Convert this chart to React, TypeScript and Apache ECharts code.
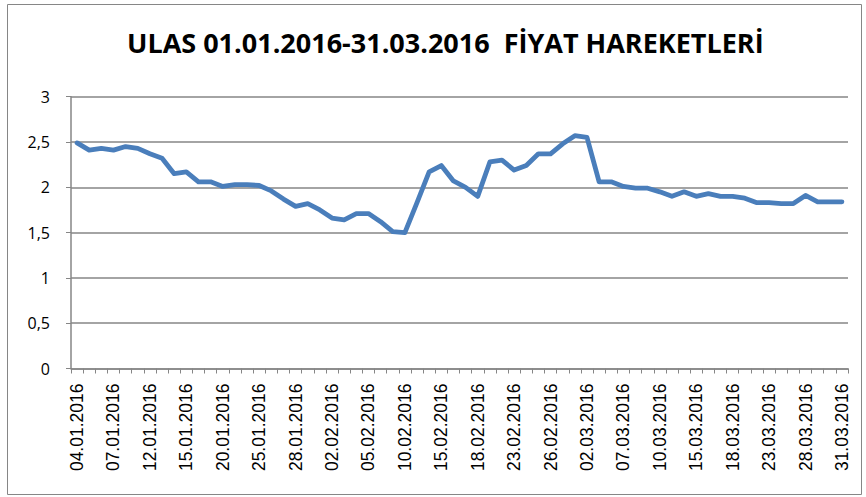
import React, { useEffect, useRef } from "react";
import * as echarts from "echarts";

const dates: string[] = [
  "04.01.2016", "05.01.2016", "06.01.2016", "07.01.2016", "08.01.2016", "11.01.2016", "12.01.2016", "13.01.2016",
  "14.01.2016", "15.01.2016", "18.01.2016", "19.01.2016", "20.01.2016", "21.01.2016", "22.01.2016", "25.01.2016",
  "26.01.2016", "27.01.2016", "28.01.2016", "29.01.2016",
  "01.02.2016", "02.02.2016", "03.02.2016", "04.02.2016", "05.02.2016", "08.02.2016", "09.02.2016", "10.02.2016",
  "11.02.2016", "12.02.2016", "15.02.2016", "16.02.2016", "17.02.2016", "18.02.2016", "19.02.2016", "22.02.2016",
  "23.02.2016", "24.02.2016", "25.02.2016", "26.02.2016", "29.02.2016",
  "01.03.2016", "02.03.2016", "03.03.2016", "04.03.2016", "07.03.2016", "08.03.2016", "09.03.2016", "10.03.2016",
  "11.03.2016", "14.03.2016", "15.03.2016", "16.03.2016", "17.03.2016", "18.03.2016", "21.03.2016", "22.03.2016",
  "23.03.2016", "24.03.2016", "25.03.2016", "28.03.2016", "29.03.2016", "30.03.2016", "31.03.2016",
];

const prices: number[] = [
  2.49, 2.41, 2.43, 2.41, 2.45, 2.43, 2.37, 2.32, 2.15, 2.17, 2.06, 2.06, 2.01, 2.03, 2.03, 2.02,
  1.96, 1.87, 1.79, 1.82, 1.75, 1.66, 1.64, 1.71, 1.71, 1.62, 1.51, 1.50, 1.83, 2.17, 2.24, 2.07,
  2.00, 1.90, 2.28, 2.30, 2.19, 2.24, 2.37, 2.37, 2.48, 2.57, 2.55, 2.06, 2.06, 2.01, 1.99, 1.99,
  1.95, 1.90, 1.95, 1.90, 1.93, 1.90, 1.90, 1.88, 1.83, 1.83, 1.82, 1.82, 1.91, 1.84, 1.84, 1.84,
];

const titleText = "ULAS 01.01.2016-31.03.2016  FİYAT HAREKETLERİ";

export default function App() {
  const ref = useRef<HTMLDivElement>(null);
  useEffect(() => {
    document.body.style.margin = "0";
    if (!ref.current) return;
    const chart = echarts.init(ref.current, null, { renderer: "svg" });
    const gray = "#868686";
    chart.setOption({
      animation: false,
      backgroundColor: "#ffffff",
      title: {
        text: titleText,
        left: 122,
        top: 24,
        textStyle: {
          fontFamily: "'Open Sans', sans-serif",
          fontWeight: "bold",
          fontSize: 27,
          color: "#000000",
        },
      },
      graphic: [
        {
          type: "rect",
          shape: { x: 7.5, y: 4.5, width: 854, height: 490 },
          style: { fill: "none", stroke: gray, lineWidth: 1 },
          silent: true,
        },
      ],
      grid: { left: 71, right: 18, top: 96.7, bottom: 128.5, containLabel: false },
      xAxis: {
        type: "category",
        data: dates,
        boundaryGap: true,
        axisLine: { show: true, lineStyle: { color: gray, width: 1.5 } },
        axisTick: { show: true, interval: 0, length: 5, lineStyle: { color: gray } },
        axisLabel: {
          interval: 2,
          rotate: 90,
          fontSize: 17.5,
          fontFamily: "'Liberation Sans', Arial, sans-serif",
          color: "#000000",
          margin: 15,
        },
        splitLine: { show: false },
      },
      yAxis: {
        type: "value",
        min: 0,
        max: 3,
        interval: 0.5,
        axisLine: { show: true, lineStyle: { color: gray, width: 1.5 } },
        axisTick: { show: true, length: 5, lineStyle: { color: gray } },
        axisLabel: {
          fontSize: 16,
          fontFamily: "'Open Sans', sans-serif",
          color: "#000000",
          margin: 21,
          formatter: (v: number) => String(v).replace(".", ","),
        },
        splitLine: { show: true, lineStyle: { color: gray, width: 1.5 } },
      },
      series: [
        {
          type: "line",
          data: prices,
          showSymbol: false,
          symbol: "none",
          lineStyle: { color: "#4A7EBB", width: 4.8, join: "round", cap: "round" },
        },
      ],
    });
    return () => chart.dispose();
  }, []);
  return (
    <div
      ref={ref}
      style={{ position: "fixed", left: 0, top: 0, width: 866, height: 497 }}
    />
  );
}
